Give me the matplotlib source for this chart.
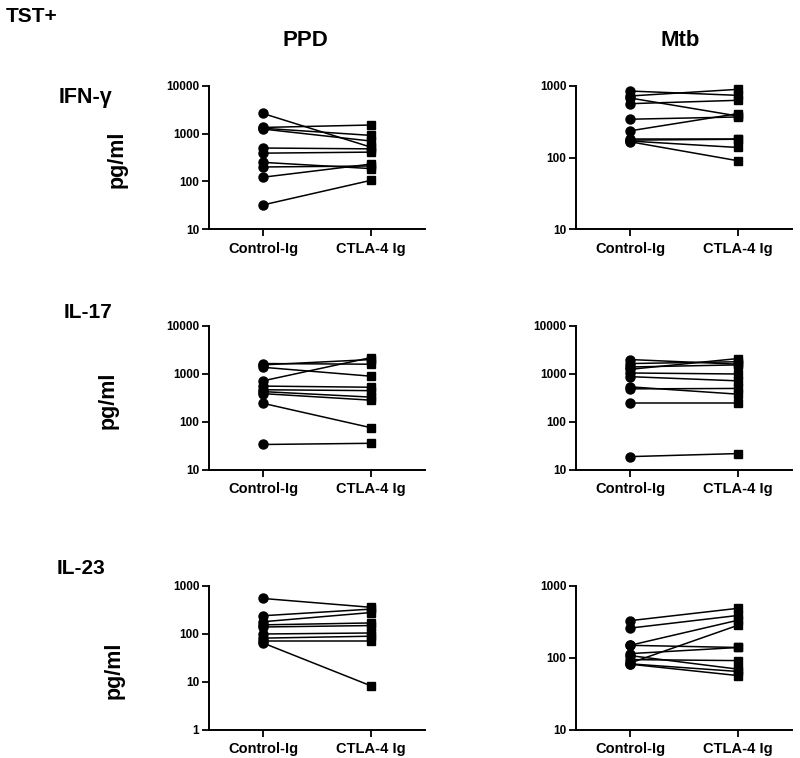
import numpy as np
import matplotlib.pyplot as plt
from matplotlib.ticker import FixedLocator, FixedFormatter, NullLocator

plt.rcParams['font.family'] = ['Liberation Sans', 'DejaVu Sans']
plt.rcParams['font.weight'] = 'bold'

groups = ["Control-Ig", "CTLA-4 Ig"]

# IFN-gamma
ifn_ppd_ctrl = [2650, 1350, 1300, 1250, 500, 390, 250, 200, 122, 32]
ifn_ppd_ctla = [520, 1520, 920, 700, 480, 410, 185, 210, 230, 105]
ifn_mtb_ctrl = [850, 725, 680, 566, 343, 236, 184, 175, 170, 166]
ifn_mtb_ctla = [740, 898, 380, 631, 369, 411, 184, 180, 138, 90]

# IL-17
il17_ppd_ctrl = [1650, 1550, 1380, 720, 560, 470, 430, 390, 245, 34]
il17_ppd_ctla = [1600, 2000, 900, 2200, 530, 450, 330, 285, 76, 36]
il17_mtb_ctrl = [2000, 1650, 1400, 1250, 1050, 880, 540, 490, 245, 19]
il17_mtb_ctla = [1600, 1800, 1550, 2100, 1000, 720, 380, 500, 245, 22]

# IL-23
il23_ppd_ctrl = [550, 240, 180, 155, 140, 100, 82, 70, 65]
il23_ppd_ctla = [360, 330, 280, 170, 150, 105, 90, 70, 8.3]
il23_mtb_ctrl = [330, 260, 150, 150, 115, 108, 95, 85, 83, 82]
il23_mtb_ctla = [490, 390, 335, 140, 140, 70, 92, 285, 65, 57]

W, H = 800, 758
fig = plt.figure(figsize=(W / 100, H / 100), dpi=100)


def add_panel(x0, x1, ytop, ybot, ctrl, ctla, ylim):
    ax = fig.add_axes([x0 / W, 1 - ybot / H, (x1 - x0) / W, (ybot - ytop) / H])
    for a, b in zip(ctrl, ctla):
        ax.plot([0, 1], [a, b], color='black', lw=1.1, zorder=2)
    ax.plot(np.zeros(len(ctrl)), ctrl, 'o', color='black', ms=6.5, zorder=3, clip_on=False)
    ax.plot(np.ones(len(ctla)), ctla, 's', color='black', ms=6, zorder=3, clip_on=False)
    ax.set_yscale('log')
    ax.set_ylim(*ylim)
    ax.set_xlim(-0.5, 1.5)
    decs = 10.0 ** np.arange(np.log10(ylim[0]), np.log10(ylim[1]) + 0.5)
    ax.yaxis.set_major_locator(FixedLocator(decs))
    ax.yaxis.set_major_formatter(FixedFormatter([str(int(d)) for d in decs]))
    ax.yaxis.set_minor_locator(NullLocator())
    ax.set_xticks([0, 1])
    ax.set_xticklabels(groups, fontsize=10.5, fontweight='bold')
    for lab in ax.get_yticklabels():
        lab.set_fontsize(8.5)
        lab.set_fontweight('bold')
    ax.spines['top'].set_visible(False)
    ax.spines['right'].set_visible(False)
    for s in ['left', 'bottom']:
        ax.spines[s].set_linewidth(1.4)
    ax.tick_params(axis='both', width=1.3, length=5, pad=2)
    ax.tick_params(axis='x', pad=4)
    return ax


rows = [(86, 229), (326, 470), (586, 730)]
left_col = (209, 425)
right_col = (576, 792)

add_panel(*left_col, *rows[0], ifn_ppd_ctrl, ifn_ppd_ctla, (10, 10000))
add_panel(*right_col, *rows[0], ifn_mtb_ctrl, ifn_mtb_ctla, (10, 1000))
add_panel(*left_col, *rows[1], il17_ppd_ctrl, il17_ppd_ctla, (10, 10000))
add_panel(*right_col, *rows[1], il17_mtb_ctrl, il17_mtb_ctla, (10, 10000))
add_panel(*left_col, *rows[2], il23_ppd_ctrl, il23_ppd_ctla, (1, 1000))
add_panel(*right_col, *rows[2], il23_mtb_ctrl, il23_mtb_ctla, (10, 1000))


def ftext(x, y, s, size, **kw):
    fig.text(x / W, 1 - y / H, s, fontsize=size, fontweight='bold', **kw)


ftext(6, 16, "TST+", 15, ha='left', va='center')
ftext(305, 40, "PPD", 16, ha='center', va='center')
ftext(680, 40, "Mtb", 16, ha='center', va='center')
ftext(59, 98, "IFN-γ", 15.5, ha='left', va='center')
ftext(64, 313, "IL-17", 15, ha='left', va='center')
ftext(57, 568, "IL-23", 15, ha='left', va='center')
for xc, yc in [(117, 159), (108, 400), (114, 670)]:
    ftext(xc, yc, "pg/ml", 15.5, ha='center', va='center', rotation=90)

fig.savefig("out.png", dpi=100)
